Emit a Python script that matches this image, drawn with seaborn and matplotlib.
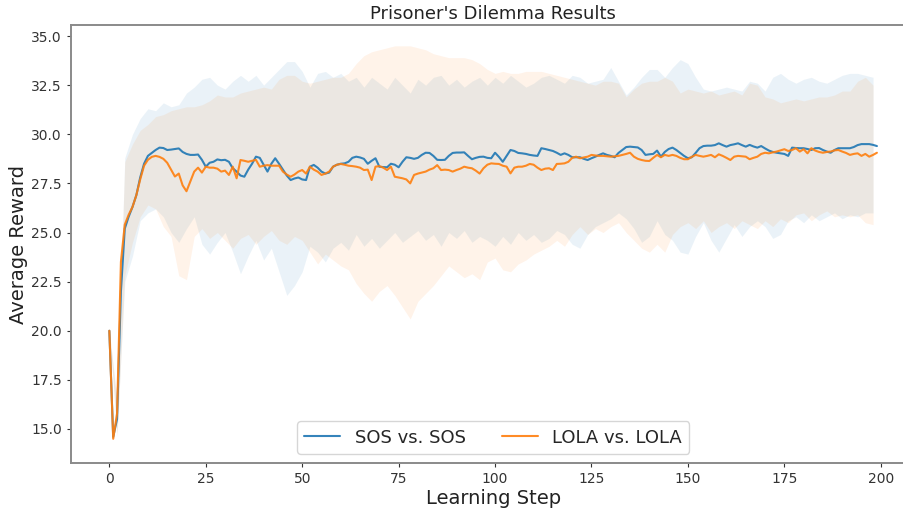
import matplotlib
matplotlib.use("Agg")
import matplotlib.pyplot as plt
import numpy as np
import pandas as pd
import seaborn as sns

# ---- data ----
steps = list(range(200))

sos_mean = [
    20.0, 14.6, 15.5, 22.0, 25.2, 25.8, 26.3, 26.9, 27.8, 28.5,
    28.9, 29.05, 29.2, 29.32, 29.3, 29.2, 29.22, 29.25, 29.28, 29.1,
    29.0, 28.95, 28.95, 28.97, 28.7, 28.35, 28.55, 28.6, 28.72, 28.68,
    28.7, 28.6, 28.27, 28.1, 27.9, 27.84, 28.2, 28.5, 28.86, 28.8,
    28.45, 28.1, 28.5, 28.78, 28.5, 28.2, 27.9, 27.67, 27.75, 27.8,
    27.7, 27.67, 28.35, 28.44, 28.3, 28.1, 28.0, 28.05, 28.35, 28.45,
    28.5, 28.52, 28.6, 28.8, 28.86, 28.82, 28.75, 28.5, 28.65, 28.78,
    28.35, 28.33, 28.32, 28.5, 28.45, 28.32, 28.6, 28.83, 28.8, 28.75,
    28.8, 28.95, 29.06, 29.05, 28.9, 28.7, 28.69, 28.7, 28.9, 29.05,
    29.07, 29.07, 29.08, 28.9, 28.73, 28.8, 28.85, 28.86, 28.8, 28.78,
    29.06, 28.85, 28.6, 28.9, 29.2, 29.15, 29.05, 29.03, 29.0, 28.95,
    28.92, 28.9, 29.29, 29.25, 29.2, 29.15, 29.06, 28.95, 29.03, 28.95,
    28.83, 28.83, 28.83, 28.75, 28.69, 28.78, 28.86, 28.95, 29.03, 28.95,
    28.9, 28.83, 29.05, 29.2, 29.35, 29.37, 29.35, 29.33, 29.2, 28.95,
    28.98, 29.0, 29.17, 28.86, 29.1, 29.25, 29.32, 29.2, 29.05, 28.9,
    28.78, 28.83, 29.05, 29.29, 29.4, 29.42, 29.42, 29.45, 29.54, 29.45,
    29.37, 29.45, 29.49, 29.54, 29.45, 29.37, 29.46, 29.38, 29.32, 29.4,
    29.28, 29.17, 29.1, 29.06, 29.03, 29.0, 28.9, 29.32, 29.3, 29.29,
    29.29, 29.25, 29.2, 29.29, 29.3, 29.2, 29.12, 29.06, 29.2, 29.29,
    29.29, 29.29, 29.29, 29.35, 29.45, 29.5, 29.5, 29.5, 29.46, 29.4,
]

lola_mean = [
    20.0, 14.5, 15.8, 23.5, 25.4, 25.9, 26.3, 26.9, 27.7, 28.4,
    28.7, 28.85, 28.9, 28.85, 28.75, 28.55, 28.2, 27.85, 28.0, 27.4,
    27.1, 27.6, 28.1, 28.3, 28.05, 28.35, 28.3, 28.3, 28.25, 28.1,
    28.15, 27.93, 28.35, 27.76, 28.69, 28.65, 28.6, 28.65, 28.7, 28.35,
    28.4, 28.43, 28.4, 28.4, 28.4, 28.1, 27.95, 27.84, 27.95, 28.1,
    28.18, 28.0, 28.35, 28.2, 28.1, 27.93, 28.0, 28.1, 28.35, 28.45,
    28.49, 28.45, 28.4, 28.38, 28.35, 28.3, 28.18, 28.2, 27.67, 28.35,
    28.38, 28.3, 28.18, 28.35, 27.84, 27.8, 27.76, 27.7, 27.5, 27.93,
    28.0, 28.05, 28.1, 28.2, 28.27, 28.43, 28.18, 28.2, 28.18, 28.1,
    28.18, 28.25, 28.35, 28.3, 28.27, 28.15, 28.0, 28.27, 28.45, 28.52,
    28.5, 28.49, 28.4, 28.35, 28.01, 28.3, 28.35, 28.35, 28.4, 28.49,
    28.45, 28.3, 28.18, 28.25, 28.27, 28.18, 28.49, 28.5, 28.52, 28.6,
    28.8, 28.86, 28.78, 28.82, 28.86, 28.95, 28.92, 28.9, 28.9, 28.88,
    28.86, 28.88, 28.9, 28.95, 29.0, 29.06, 28.86, 28.75, 28.69, 28.65,
    28.64, 28.8, 28.95, 28.83, 28.95, 28.9, 28.95, 28.9, 28.8, 28.73,
    28.73, 28.85, 28.95, 28.9, 28.86, 28.9, 28.95, 28.83, 28.98, 28.9,
    28.8, 28.69, 28.86, 28.9, 28.88, 28.86, 28.73, 28.8, 28.86, 29.0,
    29.06, 29.03, 29.08, 29.12, 29.18, 29.24, 29.15, 29.2, 29.29, 29.12,
    29.24, 29.03, 29.29, 29.17, 29.1, 29.06, 29.1, 29.12, 29.18, 29.2,
    29.12, 29.05, 28.95, 29.0, 29.03, 28.9, 29.0, 28.86, 28.95, 29.06,
]

# spread bands, read every second step
band_steps = list(range(0, 200, 2))

sos_upper = [
    20.0, 16.3, 28.8, 30.0, 30.8, 31.3, 31.2, 31.6, 31.4, 31.5,
    32.1, 32.4, 32.8, 32.9, 32.5, 32.3, 32.7, 33.0, 32.7, 33.0,
    32.5, 32.9, 33.3, 33.7, 33.7, 33.2, 32.4, 33.1, 33.2, 32.9,
    33.1, 32.7, 32.9, 32.4, 32.9, 32.6, 32.3, 32.9, 32.5, 32.1,
    32.8, 32.5, 32.9, 33.0, 32.5, 32.8, 32.4, 32.7, 32.9, 32.5,
    32.9, 32.6, 33.0, 32.7, 32.4, 32.6, 32.9, 33.0, 32.8, 32.6,
    33.0, 32.9, 32.6, 32.7, 32.8, 33.4, 32.7, 32.0, 32.4, 32.9,
    33.3, 33.3, 32.9, 33.4, 33.8, 33.6, 32.9, 32.3, 32.2, 32.3,
    32.4, 32.3, 32.2, 32.7, 32.6, 32.2, 32.9, 33.1, 32.8, 32.6,
    32.8, 32.9, 32.7, 32.6, 32.8, 33.0, 33.1, 33.1, 33.0, 32.9,
]
sos_lower = [
    20.0, 14.8, 22.5, 23.8, 25.6, 26.0, 26.2, 25.8, 25.0, 24.5,
    25.2, 25.8, 24.4, 23.9, 24.5, 25.0, 24.0, 22.9, 23.8, 24.6,
    23.6, 24.2, 23.0, 21.8, 22.3, 23.0, 24.3, 24.0, 23.5, 24.2,
    24.5, 24.1, 24.9, 24.3, 24.7, 24.2, 24.6, 25.0, 24.5, 24.8,
    25.1, 24.6, 24.9, 24.3, 25.0, 24.7, 25.1, 24.5, 24.8, 24.6,
    24.3, 24.8, 24.4, 25.0, 24.6, 24.9, 24.5, 24.7, 25.1, 24.9,
    24.4, 24.2, 24.9, 25.3, 25.5, 25.7, 26.0, 25.7, 25.2, 24.5,
    24.8, 25.6, 24.9, 24.6, 24.0, 23.9, 24.8, 25.5, 24.6, 24.0,
    24.7, 25.4, 24.8, 25.3, 25.6, 25.3, 24.7, 24.9, 25.6, 25.8,
    25.5, 25.9, 25.6, 25.8, 26.0, 25.7, 25.9, 25.8, 26.0, 26.0,
]
lola_upper = [
    20.0, 16.5, 28.6, 29.5, 30.2, 30.5, 30.9, 31.0, 31.2, 31.3,
    31.4, 31.4, 31.5, 31.7, 32.0, 31.9, 31.9, 32.1, 32.2, 32.3,
    32.4, 32.3, 32.8, 33.0, 33.0, 32.7, 32.6, 32.7, 32.8, 32.9,
    32.9, 33.1, 33.6, 34.0, 34.2, 34.3, 34.4, 34.5, 34.5, 34.5,
    34.4, 34.3, 34.1, 34.0, 33.9, 33.9, 33.9, 33.8, 33.6, 33.3,
    33.1, 33.2, 33.1, 33.1, 33.2, 33.2, 33.2, 33.1, 33.0, 32.9,
    32.8, 32.7, 32.6, 32.5, 32.7, 32.7, 32.6, 31.9, 32.3, 32.6,
    32.7, 32.7, 32.9, 32.7, 32.1, 32.3, 32.2, 32.1, 32.2, 32.0,
    32.1, 32.2, 32.0, 32.6, 32.5, 31.9, 31.8, 31.6, 31.7, 31.8,
    31.7, 31.8, 31.9, 31.9, 32.0, 32.2, 32.2, 32.7, 32.9, 32.5,
]
lola_lower = [
    20.0, 14.6, 22.8, 24.5, 25.8, 26.4, 26.2, 25.3, 24.8, 22.8,
    22.6, 24.8, 25.2, 24.7, 25.0, 24.6, 24.2, 24.7, 24.9, 24.4,
    24.8, 25.1, 24.6, 24.4, 24.8, 24.6, 24.0, 23.4, 23.9, 23.6,
    23.3, 23.1, 22.4, 21.9, 21.5, 22.0, 22.3, 21.8, 21.2, 20.6,
    21.5, 21.9, 22.3, 22.8, 23.3, 23.0, 22.7, 22.9, 22.6, 23.5,
    23.7, 23.1, 23.0, 23.4, 23.6, 23.9, 24.1, 24.3, 24.6, 24.3,
    24.9, 25.3, 24.9, 25.2, 25.0, 25.3, 25.5, 25.0, 24.6, 24.2,
    24.0, 24.4, 24.0, 24.9, 25.3, 25.5, 25.2, 25.6, 25.0, 25.3,
    25.5, 25.2, 25.6, 25.4, 25.2, 25.6, 25.3, 25.7, 25.5, 25.9,
    26.0, 25.6, 25.9, 26.1, 25.8, 25.9, 25.8, 25.9, 25.5, 25.4,
]

series_names = ["SOS vs. SOS", "LOLA vs. LOLA"]
series_colors = ["#1f77b4", "#ff7f0e"]

df = pd.concat([
    pd.DataFrame({"step": steps, "reward": sos_mean, "run": series_names[0]}),
    pd.DataFrame({"step": steps, "reward": lola_mean, "run": series_names[1]}),
])

sns.set_style("white")
plt.rcParams["font.family"] = ["DejaVu Sans"]

fig = plt.figure(figsize=(9.04, 5.11), dpi=100)
ax = fig.add_axes([0.0785, 0.094, 0.934, 0.857])

sns.lineplot(
    data=df, x="step", y="reward", hue="run",
    palette=dict(zip(series_names, series_colors)),
    linewidth=1.5, alpha=0.9, ax=ax,
)
ax.fill_between(band_steps, sos_lower, sos_upper, color=series_colors[0], alpha=0.09, lw=0)
ax.fill_between(band_steps, lola_lower, lola_upper, color=series_colors[1], alpha=0.09, lw=0)

ax.set_xlim(-9.95, 208.95)
ax.set_ylim(13.27, 35.56)
ax.set_yticks([15.0, 17.5, 20.0, 22.5, 25.0, 27.5, 30.0, 32.5, 35.0])
ax.set_xticks([0, 25, 50, 75, 100, 125, 150, 175, 200])

ax.set_title("Prisoner's Dilemma Results", fontsize=13, color="#222222", pad=4)
ax.set_xlabel("Learning Step", fontsize=14, color="#222222", labelpad=2)
ax.set_ylabel("Average Reward", fontsize=14, color="#222222", labelpad=2)

for side in ["top", "left", "bottom"]:
    ax.spines[side].set_color("#8a8a8a")
    ax.spines[side].set_linewidth(1.4)
ax.spines["right"].set_visible(False)
ax.tick_params(axis="both", labelsize=10, colors="#333333", length=3, width=0.8,
               left=True, bottom=True)

ax.legend(loc="lower center", ncol=2, fontsize=13, frameon=True,
          handlelength=2.0, columnspacing=2.0, borderpad=0.4)

fig.savefig("out.png", dpi=100)
